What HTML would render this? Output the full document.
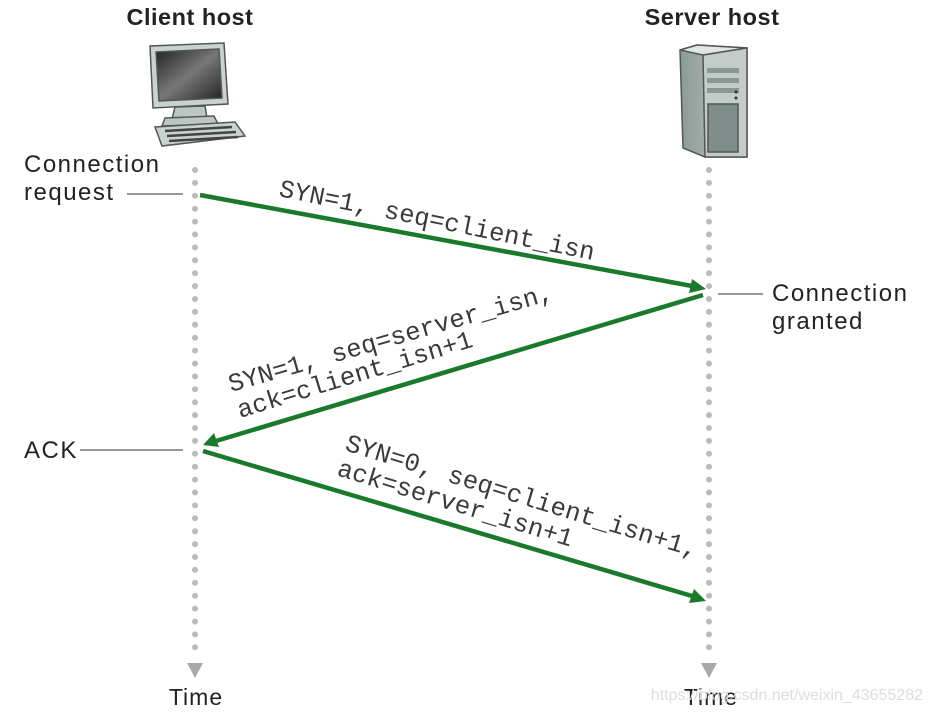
<!DOCTYPE html>
<html><head><meta charset="utf-8"><style>
html,body{margin:0;padding:0;background:#fff;}
svg{display:block;}
.s{font-family:"Liberation Sans",sans-serif;fill:#222;}
.m{font-family:"Liberation Mono",monospace;font-size:25.5px;fill:#3a3a3a;}
</style></head><body>
<svg width="932" height="714" viewBox="0 0 932 714" xmlns="http://www.w3.org/2000/svg">
<defs>
<linearGradient id="scr" x1="0" y1="0" x2="1" y2="1">
<stop offset="0" stop-color="#222"/><stop offset="0.5" stop-color="#777"/><stop offset="1" stop-color="#222"/></linearGradient>
<linearGradient id="srv" x1="0" y1="0" x2="1" y2="0">
<stop offset="0" stop-color="#8a9a96"/><stop offset="1" stop-color="#c5d0cc"/></linearGradient>
</defs>
<text class="s" x="190" y="25" font-size="23.5" font-weight="bold" text-anchor="middle" letter-spacing="0.5">Client host</text>
<text class="s" x="712" y="25" font-size="23.5" font-weight="bold" text-anchor="middle" letter-spacing="0.5">Server host</text>
<!-- computer -->
<g stroke="#555" stroke-width="1.5">
<path d="M150 46 L224 43 L228 104 L153 108 Z" fill="#c8d2cf"/>
<path d="M156 52 L219 49 L222 98 L159 101 Z" fill="url(#scr)"/>
<path d="M175 107 L205 106 L207 118 L172 119 Z" fill="#bcc6c3"/>
<path d="M165 118 L214 116 L218 124 L162 126 Z" fill="#bcc6c3"/>
<path d="M155 127 L235 122 L245 136 L162 146 Z" fill="#c8d2cf"/>
</g>
<g stroke="#444" stroke-width="2.5">
<line x1="165" y1="131" x2="232" y2="127"/><line x1="167" y1="136" x2="236" y2="132"/><line x1="169" y1="141" x2="238" y2="137"/>
</g>
<!-- server -->
<g stroke="#555" stroke-width="1.5">
<path d="M680 50 L697 45 L747 48 L747 157 L705 157 L683 148 Z" fill="url(#srv)"/>
<path d="M680 50 L697 45 L747 48 L703 55 Z" fill="#dfe6e3"/>
<path d="M703 55 L747 48 L747 157 L705 157 Z" fill="#c3ccc9"/>
<rect x="708" y="104" width="30" height="48" fill="#7e8e8a"/>
</g>
<g fill="#8a9894"><rect x="707" y="68" width="32" height="5"/><rect x="707" y="78" width="32" height="5"/><rect x="707" y="88" width="32" height="5"/></g>
<circle cx="736" cy="92" r="1.5" fill="#333"/><circle cx="736" cy="98" r="1.5" fill="#333"/>
<!-- timelines -->
<g stroke="#bbb" stroke-width="6" stroke-linecap="round" stroke-dasharray="0 12.9">
<line x1="195" y1="170" x2="195" y2="656"/>
<line x1="709" y1="170" x2="709" y2="656"/>
</g>
<path d="M187 663 L203 663 L195 678 Z" fill="#aaa"/>
<path d="M701 663 L717 663 L709 678 Z" fill="#aaa"/>
<text class="s" x="196" y="705" font-size="23" text-anchor="middle" letter-spacing="1">Time</text>
<text class="s" x="711" y="705" font-size="23" text-anchor="middle" letter-spacing="1">Time</text>
<text x="923" y="700" font-family="Liberation Sans,sans-serif" font-size="16" fill="#ddd" text-anchor="end">https://blog.csdn.net/weixin_43655282</text>
<!-- side labels -->
<g class="s" font-size="24" letter-spacing="1.5">
<text x="24" y="172">Connection</text><text x="24" y="200">request</text>
<text x="772" y="301">Connection</text><text x="772" y="329">granted</text>
<text x="24" y="458">ACK</text>
</g>
<g stroke="#777" stroke-width="1.5">
<line x1="127" y1="194" x2="183" y2="194"/>
<line x1="718" y1="294" x2="763" y2="294"/>
<line x1="80" y1="450" x2="183" y2="450"/>
</g>
<!-- arrows -->
<g stroke="#1a7a2c" stroke-width="4.5" fill="none">
<line x1="200" y1="195" x2="692" y2="286"/>
<line x1="703" y1="295" x2="216" y2="441"/>
<line x1="203" y1="451" x2="692" y2="596"/>
</g>
<g fill="#1a7a2c">
<path d="M706 289 L689 293 L692 279 Z"/>
<path d="M203 445 L214 433 L219 447 Z"/>
<path d="M706 601 L689 603 L694 589 Z"/>
</g>
<!-- message labels -->
<text class="m" transform="translate(278,196) rotate(11.5)">SYN=1, seq=client_isn</text>
<text class="m" transform="translate(231,392) rotate(-16)">SYN=1, seq=server_isn,</text>
<text class="m" transform="translate(240,418) rotate(-17)">ack=client_isn+1</text>
<text class="m" transform="translate(344,450) rotate(17)">SYN=0, seq=client_isn+1,</text>
<text class="m" transform="translate(336,475) rotate(17)">ack=server_isn+1</text>
</svg>
</body></html>
